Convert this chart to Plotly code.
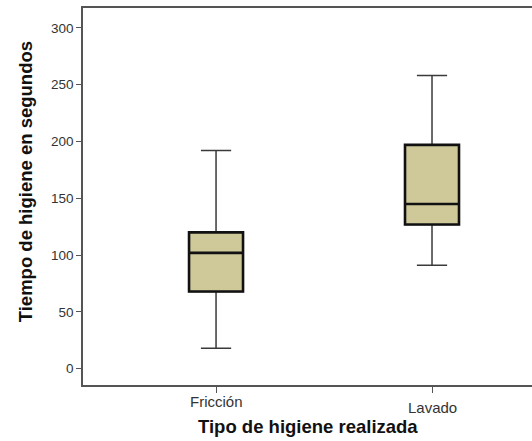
import plotly.graph_objects as go

categories = ["Fricción", "Lavado"]
lower_whisker = [18, 91]
q1_values = [68, 127]
medians = [102, 145]
q3_values = [120, 197]
upper_whisker = [192, 258]
y_ticks = [0, 50, 100, 150, 200, 250, 300]
x_label_offsets = [-6, -12]  # per-category label drop (px), as in the original

fill = "#CFC99A"

fig = go.Figure()
# whiskers (thin)
fig.add_trace(go.Box(
    x=categories, q1=q1_values, median=medians, q3=q3_values,
    lowerfence=lower_whisker, upperfence=upper_whisker,
    fillcolor=fill, line=dict(color="#3a3a3a", width=1.5),
    width=0.25, whiskerwidth=0.56, boxpoints=False, showlegend=False,
    hoverinfo="skip"))
# box body (thick outline)
fig.add_trace(go.Box(
    x=categories, q1=q1_values, median=medians, q3=q3_values,
    lowerfence=q1_values, upperfence=q3_values,
    fillcolor=fill, line=dict(color="#111111", width=2.6),
    width=0.25, whiskerwidth=0, boxpoints=False, showlegend=False,
    hoverinfo="skip"))

# x tick labels (slightly staggered like the original)
for cat, off in zip(categories, x_label_offsets):
    fig.add_annotation(x=cat, xref="x", y=0, yref="paper", text=cat,
                       showarrow=False, yanchor="top", yshift=off,
                       font=dict(size=15, color="#333333"))

# x axis title
fig.add_annotation(x=0.5, xref="paper", y=-0.111, yref="paper",
                   text="<b>Tipo de higiene realizada</b>",
                   showarrow=False, xanchor="center", yanchor="middle",
                   font=dict(size=18.5, color="#111111"))

# y axis title
fig.add_annotation(x=-0.129, xref="paper", y=0.538, yref="paper",
                   text="<b>Tiempo de higiene en segundos</b>", textangle=-90,
                   showarrow=False, xanchor="center", yanchor="middle",
                   font=dict(size=18.5, color="#111111"))

fig.update_layout(
    width=532, height=441,
    margin=dict(l=83, r=0, t=8, b=56, autoexpand=False),
    paper_bgcolor="white", plot_bgcolor="white",
    font=dict(family="Liberation Sans, Arial, sans-serif", color="#333333"),
    boxmode="overlay",
    xaxis=dict(
        type="category", range=[-0.616, 1.463], automargin=False,
        showline=True, linecolor="#555555", linewidth=1.5, mirror=True,
        ticks="outside", ticklen=6, tickcolor="#555555", tickwidth=1,
        showgrid=False, zeroline=False, showticklabels=False,
    ),
    yaxis=dict(
        range=[-14.3, 317.5], tickvals=y_ticks, automargin=False,
        showline=True, linecolor="#555555", linewidth=1.5, mirror=False,
        ticks="outside", ticklen=5, tickcolor="#555555", tickwidth=1,
        showgrid=False, zeroline=False,
        tickfont=dict(size=13.5, color="#333333"),
    ),
)

fig.write_html(
    "out.html",
    config={"displayModeBar": False},
    post_script="document.body.style.margin='0';document.body.style.overflow='hidden';",
)
